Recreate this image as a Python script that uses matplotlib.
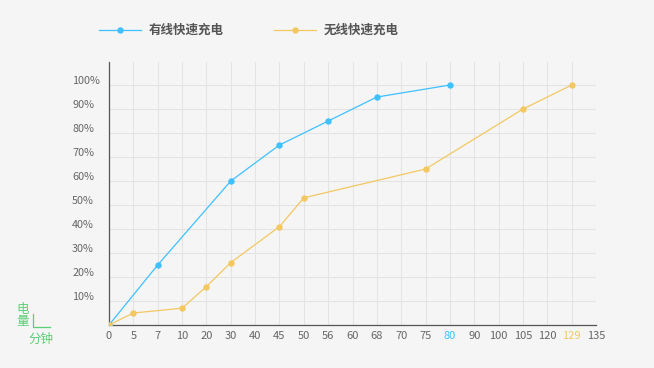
import matplotlib
matplotlib.use("Agg")
import matplotlib.pyplot as plt
from matplotlib.lines import Line2D

plt.rcParams['font.family'] = ['Noto Sans CJK SC', 'DejaVu Sans']

# x axis is categorical (minutes), evenly spaced
minutes = ["0", "5", "7", "10", "20", "30", "40", "45", "50", "56", "60",
           "68", "70", "75", "80", "90", "100", "105", "120", "129", "135"]
pct_ticks = [10, 20, 30, 40, 50, 60, 70, 80, 90, 100]

wired_min = ["0", "7", "30", "45", "56", "68", "80"]
wired_pct = [0, 25, 60, 75, 85, 95, 100]

wireless_min = ["0", "5", "10", "20", "30", "45", "50", "75", "105", "129"]
wireless_pct = [0, 5, 7, 16, 26, 41, 53, 65, 90, 100]

labels = ["有线快速充电", "无线快速充电"]
blue = "#3fc1ff"
yellow = "#f3c862"
green = "#5ccf77"
bg = "#f5f5f5"

fig = plt.figure(figsize=(6.54, 3.68), dpi=100, facecolor=bg)
ax = fig.add_axes([109/654, 1 - 325/368, 487/654, 263/368])
ax.set_facecolor(bg)

pos = {m: i for i, m in enumerate(minutes)}
wx = [pos[m] for m in wired_min]
yx = [pos[m] for m in wireless_min]

ax.plot(wx, wired_pct, color=blue, lw=0.9, marker='o', ms=3.6, zorder=3)
ax.plot(yx, wireless_pct, color=yellow, lw=0.9, marker='o', ms=3.6, zorder=3)

ax.set_xlim(0, len(minutes) - 1)
ax.set_ylim(0, 109.6)
ax.set_xticks(range(len(minutes)))
ax.set_xticklabels(minutes)
ax.set_yticks(pct_ticks)
ax.set_yticklabels([])
ax.tick_params(length=0, labelsize=8, colors="#666666", pad=4)
for lab in ax.get_xticklabels():
    if lab.get_text() == wired_min[-1]:
        lab.set_color(blue)
    elif lab.get_text() == wireless_min[-1]:
        lab.set_color(yellow)

# y labels: left aligned, slightly above each grid line
for p in pct_ticks:
    ax.annotate(f"{p}%", xy=(0, p), xycoords=('axes fraction', 'data'),
                xytext=(-26.6, 3), textcoords='offset points',
                ha='left', va='center', fontsize=7.8, color="#666666")

ax.grid(True, color="#e4e4e4", lw=0.8)
ax.set_axisbelow(True)
for s in ["top", "right"]:
    ax.spines[s].set_visible(False)
for s in ["left", "bottom"]:
    ax.spines[s].set_color("#555555")
    ax.spines[s].set_linewidth(0.9)

# legend, drawn by hand
def fx(px):
    return px / 654

def fy(py):
    return 1 - py / 368

for x0, col, lab in [(99, blue, labels[0]), (274, yellow, labels[1])]:
    fig.add_artist(Line2D([fx(x0), fx(x0 + 42)], [fy(30), fy(30)], color=col,
                          lw=0.9, transform=fig.transFigure))
    fig.add_artist(Line2D([fx(x0 + 21)], [fy(30)], color=col, marker='o', ms=3.6,
                          transform=fig.transFigure))
    fig.text(fx(x0 + 50), fy(30), lab, fontsize=9, fontweight='bold',
             color="#555555", va='center', ha='left')

# axis title corner: 电量 / 分钟
fig.text(fx(23), fy(310), "电", fontsize=9, color=green, ha='center', va='center')
fig.text(fx(23), fy(322), "量", fontsize=9, color=green, ha='center', va='center')
fig.add_artist(Line2D([fx(33), fx(33), fx(50)], [fy(314), fy(327), fy(327)],
                      color=green, lw=0.9, transform=fig.transFigure))
fig.text(fx(41), fy(339), "分钟", fontsize=9, color=green, ha='center', va='center')

fig.savefig("out.png", dpi=100, facecolor=bg)
